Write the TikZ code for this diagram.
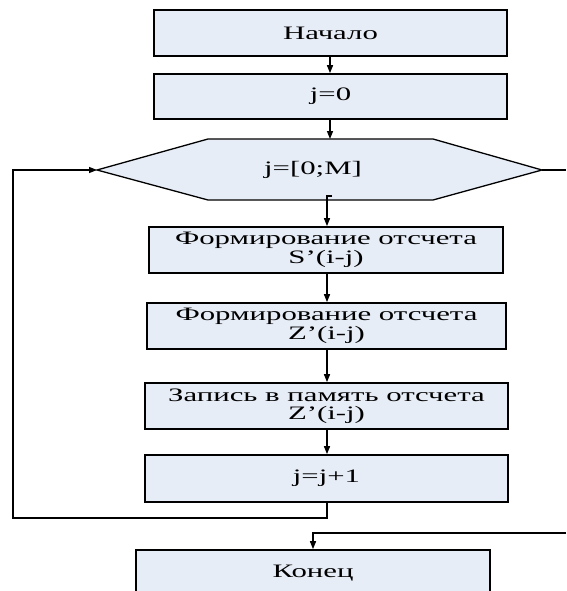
\documentclass[tikz,border=0pt]{standalone}
\usepackage{fontspec}
\setmainfont[FakeStretch=1.62]{Liberation Serif}
\usetikzlibrary{arrows.meta}
\definecolor{boxfill}{RGB}{231,237,247}
\begin{document}
\begin{tikzpicture}[x=1pt,y=-1pt,
  box/.style={draw=black, fill=boxfill, line width=1.7pt, inner sep=0pt,
    align=center, font=\fontsize{19}{18.5}\selectfont, minimum height=46pt},
  conn/.style={line width=1.4pt, draw=black},
  arr/.style={conn, -{Triangle[length=8pt,width=6pt]}},
  lbl/.style={inner sep=0pt, align=center, font=\fontsize{19}{18.5}\selectfont}]
\useasboundingbox (0,0) rectangle (566,591);
\begin{scope}
\clip (0,0) rectangle (566,591);
\node[box, minimum width=353pt] (start) at (330.5,33) {Начало};
\node[box, minimum width=353pt, minimum height=45pt] (j0) at (330.5,96.5) {j=0};
% hexagon
\coordinate (hl) at (97,170);
\coordinate (hr) at (542,170);
\coordinate (htop) at (330,139);
\filldraw[fill=boxfill, draw=black, line width=1.3pt]
  (hl) -- (208,139) -- (433,139) -- (hr) -- (433,200) -- (208,200) -- cycle;
\node[lbl] (hex) at (313,170) {j=[0;M]};
\node[box, minimum width=354pt] (s) at (326,250) {Формирование отсчета\\S’(i-j)};
\node[box, minimum width=359pt] (z) at (326.5,326) {Формирование отсчета\\Z’(i-j)};
\node[box, minimum width=363pt] (mem) at (326.5,406) {Запись в память отсчета\\Z’(i-j)};
\node[box, minimum width=363pt, minimum height=47pt] (inc) at (326.5,478.5) {j=j+1};
\node[box, minimum width=354pt] (fin) at (313,573) {Конец};
% connectors
\draw[arr] (start.south -| htop) -- (j0.north -| htop);
\draw[arr] (j0.south -| htop) -- (htop);
\coordinate (hook) at (332,196);
\coordinate (hb) at (327,196);
\draw[arr] (hook) -- (hb) -- (hb |- s.north);
\draw[arr] (s.south -| hb) -- (z.north -| hb);
\draw[arr] (z.south -| hb) -- (mem.north -| hb);
\draw[arr] (mem.south -| hb) -- (inc.north -| hb);
\coordinate (lb) at (13,518);
\draw[arr] (inc.south -| hb) -- (hb |- lb) -- (lb) -- (lb |- hl) -- (hl);
\coordinate (rr) at (566,170);
\draw[conn] (hr) -- (rr);
\coordinate (re) at (566,533);
\draw[arr] (re) -- (re -| fin) -- (fin.north);
\end{scope}
\end{tikzpicture}
\end{document}
